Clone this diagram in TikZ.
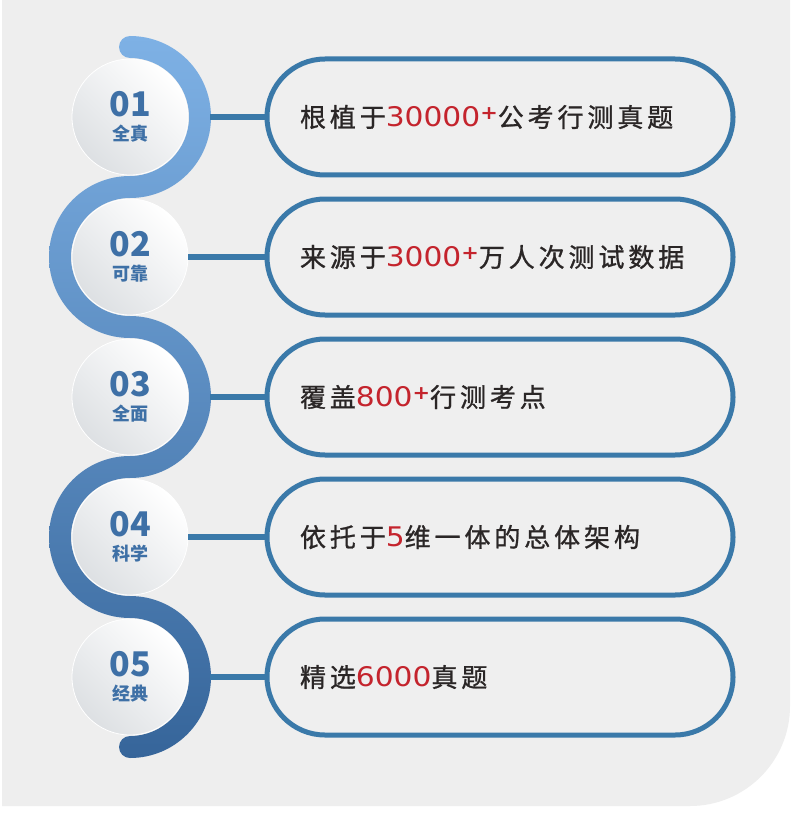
\documentclass[tikz,border=0pt]{standalone}
\usepackage{fontspec}
\usepackage{xcolor}
\usepackage{tikz}
\setmainfont{Noto Sans CJK SC}
\newfontfamily\cjkfont[LetterSpace=15,FakeBold=1]{Noto Sans CJK SC}
\newfontfamily\digitfont[FakeStretch=1.1]{DejaVu Sans}

\definecolor{bggray}{HTML}{EEEEEE}
\definecolor{pillblue}{HTML}{3A79A9}
\definecolor{pillfill}{HTML}{EFEFEF}
\definecolor{numblue}{HTML}{3E70A6}
\definecolor{bandtop}{HTML}{7EB1E5}
\definecolor{bandbot}{HTML}{36659A}
\definecolor{discgray}{HTML}{DDE0E3}
\definecolor{txtdark}{HTML}{2A2626}
\definecolor{numred}{HTML}{C4242D}

\newcommand\numtxt[1]{{\fontsize{34}{34}\selectfont\bfseries #1}}
\newcommand\labtxt[1]{{\fontsize{18}{18}\selectfont\bfseries #1}}
\newcommand\hl[1]{{\digitfont\fontsize{27}{27}\selectfont\color{numred}#1}}
\newcommand\plusmark{{\color{numred}\raisebox{7pt}{\digitfont\bfseries\fontsize{19}{19}\selectfont +}}}

\begin{document}
\begin{tikzpicture}[x=1pt,y=1pt,node distance=140pt,
  disc/.style={circle,minimum size=116pt,inner sep=0pt,draw=white,line width=0.8pt,
    top color=white,bottom color=discgray,shading angle=-45,text=numblue,align=center,
    font=\fontsize{18}{24}\selectfont},
  pill/.style={rectangle,rounded corners=58pt,draw=pillblue,line width=5pt,fill=pillfill,
    minimum width=465pt,minimum height=116pt,text width=400pt,inner xsep=33pt,
    align=left,text=txtdark,font=\cjkfont\fontsize{26}{30}\selectfont},
  link/.style={draw=pillblue,line width=6pt}]
\useasboundingbox (0,0) rectangle (790,-813);
\fill[white] (0,0) rectangle (790,-813);
\fill[bggray] (2,0) -- (790,0) -- (790,-706) arc[start angle=0,end angle=-90,radius=100] -- (2,-806) -- cycle;

% winding band
\shade[top color=bandtop,bottom color=bandbot]
  (130,-36) arc[start angle=90,end angle=-90,radius=81]
  arc[start angle=90,end angle=270,radius=59]
  arc[start angle=90,end angle=-90,radius=81]
  arc[start angle=90,end angle=270,radius=59]
  arc[start angle=90,end angle=-90,radius=81]
  arc[start angle=270,end angle=90,radius=11]
  arc[start angle=-90,end angle=90,radius=59]
  arc[start angle=270,end angle=90,radius=81]
  arc[start angle=-90,end angle=90,radius=59]
  arc[start angle=270,end angle=90,radius=81]
  arc[start angle=-90,end angle=90,radius=59]
  arc[start angle=270,end angle=90,radius=11]
  -- cycle;

\node[disc] (c1) at (130,-117) {\numtxt{01}\\\labtxt{全真}};
\node[disc] (c2) [below of = c1] {\numtxt{02}\\\labtxt{可靠}};
\node[disc] (c3) [below of = c2] {\numtxt{03}\\\labtxt{全面}};
\node[disc] (c4) [below of = c3] {\numtxt{04}\\\labtxt{科学}};
\node[disc] (c5) [below of = c4] {\numtxt{05}\\\labtxt{经典}};

\node[pill,node distance=370pt] (p1) [right of = c1] {根植于\hl{30000}\plusmark 公考行测真题};
\node[pill,node distance=370pt] (p2) [right of = c2] {来源于\hl{3000}\plusmark 万人次测试数据};
\node[pill,node distance=370pt] (p3) [right of = c3] {覆盖\hl{800}\plusmark 行测考点};
\node[pill,node distance=370pt] (p4) [right of = c4] {依托于\hl{5}维一体的总体架构};
\node[pill,node distance=370pt] (p5) [right of = c5] {精选\hl{6000}真题};

\path (c1) edge [link,shorten <=22pt] (p1);
\path (c2) edge [link] (p2);
\path (c3) edge [link,shorten <=22pt] (p3);
\path (c4) edge [link] (p4);
\path (c5) edge [link,shorten <=22pt] (p5);
\end{tikzpicture}
\end{document}
